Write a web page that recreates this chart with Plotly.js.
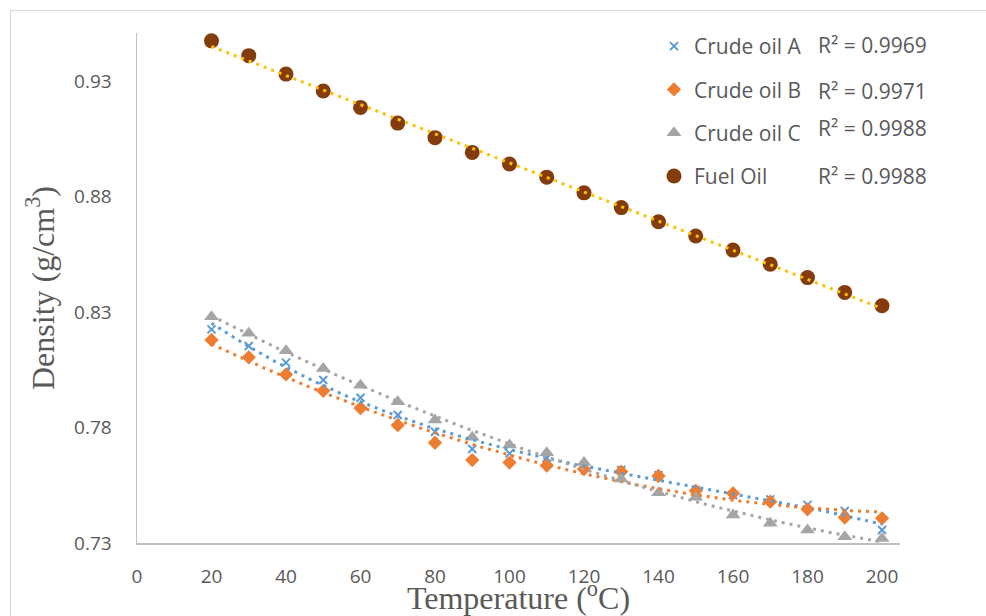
<!DOCTYPE html>
<html>
<head>
<meta charset="utf-8">
<script src="https://cdn.plot.ly/plotly-3.0.1.min.js"></script>
<style>
  html, body { margin: 0; padding: 0; background: #ffffff; overflow: hidden; }
  #chart { width: 986px; height: 616px; }
  #frame { position: absolute; left: 10px; top: 10px; width: 1100px; height: 700px;
           border: 1px solid #d9d9d9; pointer-events: none; }
</style>
</head>
<body>
<div id="chart"></div>
<div id="frame"></div>
<script>
// ---- data ----
const temperature = [20, 30, 40, 50, 60, 70, 80, 90, 100, 110, 120, 130, 140, 150, 160, 170, 180, 190, 200];

const crudeA = [0.8225, 0.8153, 0.8081, 0.8006, 0.7929, 0.7854, 0.7782, 0.7707, 0.7688, 0.7668,
                0.7630, 0.7616, 0.7594, 0.7529, 0.7508, 0.7489, 0.7465, 0.7439, 0.7356];
const crudeB = [0.8179, 0.8104, 0.8030, 0.7959, 0.7884, 0.7810, 0.7734, 0.7659, 0.7648, 0.7635,
                0.7620, 0.7609, 0.7590, 0.7526, 0.7515, 0.7479, 0.7446, 0.7410, 0.7407];
const crudeC = [0.8280, 0.8208, 0.8132, 0.8056, 0.7983, 0.7912, 0.7832, 0.7758, 0.7724, 0.7691,
                0.7649, 0.7577, 0.7518, 0.7498, 0.7421, 0.7385, 0.7356, 0.7327, 0.7320];
const fuelOil = [0.9474, 0.9410, 0.9330, 0.9257, 0.9186, 0.9118, 0.9055, 0.8991, 0.8941, 0.8884,
                 0.8816, 0.8752, 0.8691, 0.8629, 0.8568, 0.8507, 0.8449, 0.8385, 0.8327];

const seriesNames = ["Crude oil A", "Crude oil B", "Crude oil C", "Fuel Oil"];
const r2Labels = ["R\u00b2 = 0.9969", "R\u00b2 = 0.9971", "R\u00b2 = 0.9988", "R\u00b2 = 0.9988"];
const trendOrder = [3, 2, 2, 1];

const xTicks = [0, 20, 40, 60, 80, 100, 120, 140, 160, 180, 200];
const yTicks = [0.73, 0.78, 0.83, 0.88, 0.93];

// ---- styles ----
const markerColors = ["#5b9bd5", "#ed7d31", "#a5a5a5", "#843c0c"];
const trendColors  = ["#5b9bd5", "#ed7d31", "#a5a5a5", "#ffc000"];
const symbols = ["x-thin-open", "diamond", "triangle-up", "circle"];
const sizes = [8, 11, 13, 15];

// least-squares polynomial fit
function polyfit(xs, ys, order) {
  const n = order + 1;
  const sx = xs.map(v => v / 100);
  const A = [], b = [];
  for (let i = 0; i < n; i++) {
    A.push(new Array(n).fill(0)); b.push(0);
  }
  for (let k = 0; k < sx.length; k++) {
    for (let i = 0; i < n; i++) {
      b[i] += ys[k] * Math.pow(sx[k], i);
      for (let j = 0; j < n; j++) A[i][j] += Math.pow(sx[k], i + j);
    }
  }
  for (let i = 0; i < n; i++) {
    let p = i;
    for (let r = i + 1; r < n; r++) if (Math.abs(A[r][i]) > Math.abs(A[p][i])) p = r;
    [A[i], A[p]] = [A[p], A[i]]; [b[i], b[p]] = [b[p], b[i]];
    for (let r = i + 1; r < n; r++) {
      const f = A[r][i] / A[i][i];
      for (let c = i; c < n; c++) A[r][c] -= f * A[i][c];
      b[r] -= f * b[i];
    }
  }
  const coef = new Array(n).fill(0);
  for (let i = n - 1; i >= 0; i--) {
    let s = b[i];
    for (let c = i + 1; c < n; c++) s -= A[i][c] * coef[c];
    coef[i] = s / A[i][i];
  }
  return x => coef.reduce((acc, c, i) => acc + c * Math.pow(x / 100, i), 0);
}

const allSeries = [crudeA, crudeB, crudeC, fuelOil];
const traces = [];

allSeries.forEach((ys, i) => {
  traces.push({
    type: "scatter", mode: "markers", x: temperature, y: ys, name: seriesNames[i],
    legendgroup: "g" + i,
    marker: {
      symbol: symbols[i], size: sizes[i], color: markerColors[i],
      line: i === 0 ? { color: markerColors[i], width: 2 } : { width: 0 }
    },
    cliponaxis: false
  });
});

const xMin = temperature[0], xMax = temperature[temperature.length - 1];
allSeries.forEach((ys, i) => {
  const f = polyfit(temperature, ys, trendOrder[i]);
  const tx = [], ty = [];
  for (let x = xMin; x <= xMax; x += 1) { tx.push(x); ty.push(f(x)); }
  traces.push({
    type: "scatter", mode: "lines", x: tx, y: ty, showlegend: false, hoverinfo: "skip",
    line: { color: trendColors[i], width: 3, dash: "3px,5px" }
  });
});

const plotL = 137, plotR = 900, plotT = 33, plotB = 543;
const W = 986, H = 616;
const px = v => (v - plotL) / (plotR - plotL);
const py = v => (plotB - v) / (plotB - plotT);

const r2Y = [45, 91, 128, 176];
const annotations = r2Labels.map((t, i) => ({
  text: t, xref: "paper", yref: "paper", x: px(816), y: py(r2Y[i]),
  xanchor: "left", yanchor: "middle", showarrow: false,
  font: { family: "Open Sans", size: 21, color: "#595959" }
}));

const layout = {
  width: W, height: H,
  margin: { l: plotL, r: W - plotR, t: plotT, b: H - plotB, pad: 0 },
  paper_bgcolor: "#ffffff", plot_bgcolor: "#ffffff",
  showlegend: true,
  legend: {
    x: px(654), y: py(26), xanchor: "left", yanchor: "top",
    font: { family: "Open Sans", size: 21, color: "#595959" },
    bgcolor: "rgba(0,0,0,0)", borderwidth: 0, tracegroupgap: 13, itemwidth: 30
  },
  xaxis: {
    range: [0, 204.83], tickvals: xTicks, ticktext: xTicks.map(String),
    showgrid: false, zeroline: false, showline: true, linecolor: "#bfbfbf", linewidth: 1.5,
    ticks: "", ticklabelstandoff: 16,
    tickfont: { family: "Open Sans", size: 19, color: "#595959" },
    title: { text: "Temperature (<sup>o</sup>C)", standoff: 10,
             font: { family: "Liberation Serif", size: 32, color: "#595959" } },
    automargin: false
  },
  yaxis: {
    range: [0.73, 0.9508], tickvals: yTicks, ticktext: yTicks.map(v => v.toFixed(2)),
    showgrid: false, zeroline: false, showline: true, linecolor: "#bfbfbf", linewidth: 1.5,
    ticks: "", ticklabelstandoff: 20,
    tickfont: { family: "Open Sans", size: 19, color: "#595959" },
    title: { text: "Density (g/cm<sup>3</sup>)", standoff: 10,
             font: { family: "Liberation Serif", size: 32, color: "#595959" } },
    automargin: false
  },
  annotations: annotations
};

Plotly.newPlot("chart", traces, layout, { displayModeBar: false, staticPlot: true });
</script>
</body>
</html>
